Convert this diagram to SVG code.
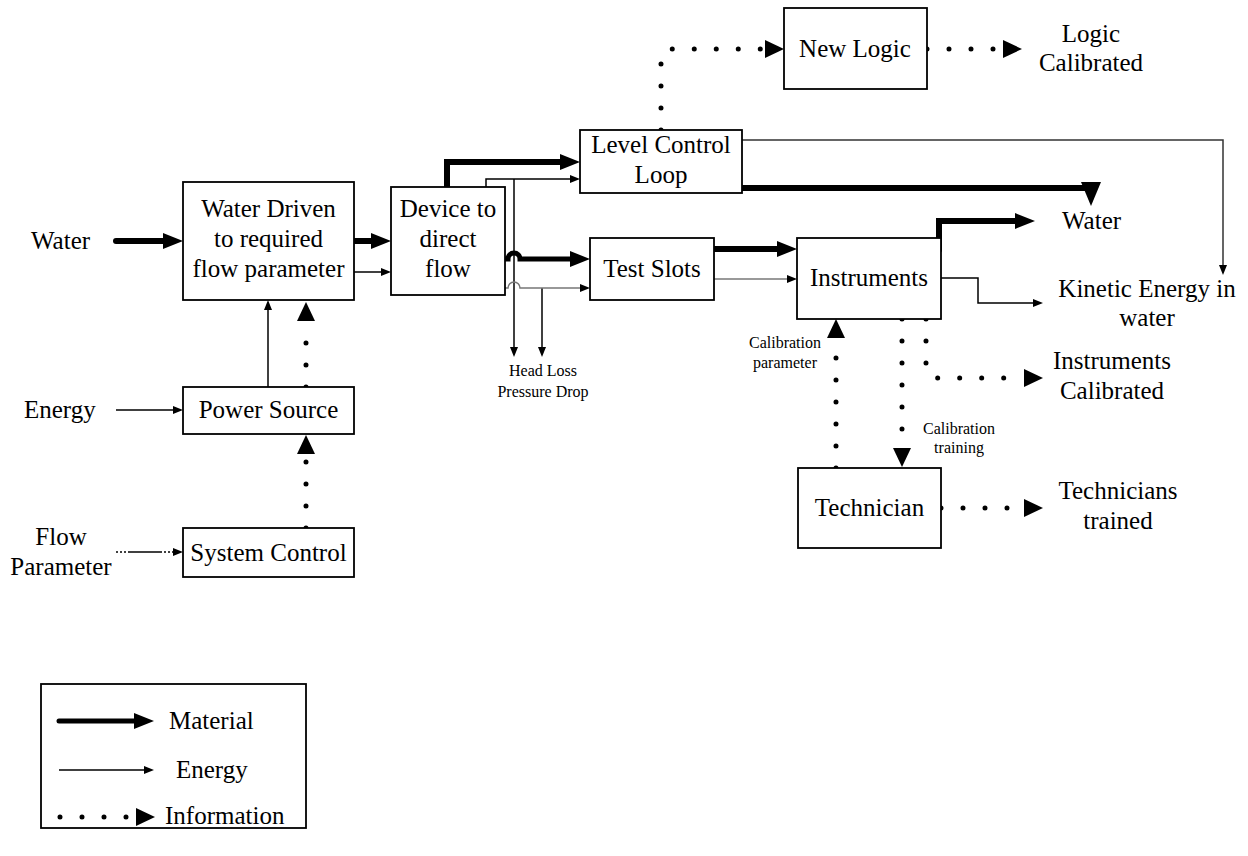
<svg xmlns="http://www.w3.org/2000/svg" width="1248" height="856" viewBox="0 0 1248 856">
<style>
  .box { fill: #fff; stroke: #000; stroke-width: 1.8; }
  .t { font-family: "Liberation Serif", "Times New Roman", serif; font-size: 25px; fill: #000; }
  .c { text-anchor: middle; }
  .s { font-family: "Liberation Serif", "Times New Roman", serif; font-size: 16px; fill: #000; }
  .mat { fill: none; stroke: #000; stroke-width: 6; stroke-linecap: round; }
  .en { fill: none; stroke: #000; stroke-width: 1.5; }
  .eng { fill: none; stroke: #777; stroke-width: 1.5; }
  .inf { fill: none; stroke: #000; stroke-width: 5; stroke-linecap: round; stroke-dasharray: 0 22; }
</style>
<defs>
  <marker id="mMat" viewBox="0 -8 20 16" refX="0" refY="0" markerWidth="20" markerHeight="16" markerUnits="userSpaceOnUse" orient="auto">
    <path d="M0,-8 L20,0 L0,8 Z" fill="#000"/>
  </marker>
  <marker id="mEn" viewBox="0 -4 10 8" refX="0" refY="0" markerWidth="10" markerHeight="8" markerUnits="userSpaceOnUse" orient="auto">
    <path d="M0,-4 L10,0 L0,4 Z" fill="#000"/>
  </marker>
  <marker id="mInf" viewBox="0 -9 19 18" refX="0" refY="0" markerWidth="19" markerHeight="18" markerUnits="userSpaceOnUse" orient="auto">
    <path d="M0,-9 L19,0 L0,9 Z" fill="#000"/>
  </marker>
</defs>

<g id="connectors">
  <!-- inputs -->
  <path class="mat" d="M116,241 H163" marker-end="url(#mMat)"/>
  <path class="en" d="M116,410 H173" marker-end="url(#mEn)"/>
  <path class="en" d="M116,552 H130" stroke-dasharray="2 2"/>
  <path class="en" d="M130,552 H160"/>
  <path class="en" d="M160,552 H173" stroke-dasharray="2 2" marker-end="url(#mEn)"/>
  <!-- left column -->
  <path class="en" d="M268,387 V310" marker-end="url(#mEn)"/>
  <path class="inf" d="M306,387 V321" marker-end="url(#mInf)"/>
  <path class="inf" d="M306,528 V454" marker-end="url(#mInf)"/>
  <!-- water driven to device -->
  <path class="mat" d="M354,241 H371" marker-end="url(#mMat)"/>
  <path class="en" d="M354,272 H381" marker-end="url(#mEn)"/>
  <!-- device to level control loop -->
  <path class="mat" d="M447,187 V162 H560" stroke-linejoin="miter" marker-end="url(#mMat)"/>
  <path class="en" d="M486,187 V179 H570" marker-end="url(#mEn)"/>
  <path class="en" d="M514,179 V347" marker-end="url(#mEn)"/>
  <path class="en" d="M542,288 V347" marker-end="url(#mEn)"/>
  <!-- device to test slots -->
  <path class="mat" style="stroke-width:5" d="M505,259 H508 A6,6 0 0 1 520,259 H570" marker-end="url(#mMat)"/>
  <path class="eng" d="M505,288 H508 A6,6 0 0 1 520,288 H580" marker-end="url(#mEn)"/>
  <!-- test slots to instruments -->
  <path class="mat" d="M714,249 H777" marker-end="url(#mMat)"/>
  <path class="eng" d="M714,279 H787" marker-end="url(#mEn)"/>
  <!-- instruments outputs -->
  <path class="mat" d="M939,250 V221 H1015" stroke-linejoin="miter" marker-end="url(#mMat)"/>
  <path class="en" d="M941,278 H978 V303 H1033" marker-end="url(#mEn)"/>
  <path class="inf" d="M926,319 V370 L934,378 H1024" marker-end="url(#mInf)"/>
  <path class="inf" d="M902,319 V448" marker-end="url(#mInf)"/>
  <path class="inf" d="M836,468 V338" marker-end="url(#mInf)"/>
  <path class="inf" d="M941,508 H1024" marker-end="url(#mInf)"/>
  <!-- level control loop outputs -->
  <path class="mat" d="M742,188 H1092"/>
  <polygon points="1081,182 1101,182 1091,206" fill="#000"/>
  <path class="en" style="stroke:#333" d="M742,140 H1223 V265" marker-end="url(#mEn)"/>
  <path class="inf" d="M661,130 V60 Q661,49 672,49 H765" marker-end="url(#mInf)"/>
  <path class="inf" d="M927,49 H1003" marker-end="url(#mInf)"/>
</g>

<g id="water-driven">
  <rect class="box" x="183" y="182" width="171" height="118"/>
  <text class="t c" x="268.5" y="217">Water Driven</text>
  <text class="t c" x="268.5" y="247">to required</text>
  <text class="t c" x="268.5" y="277">flow parameter</text>
</g>
<g id="power-source">
  <rect class="box" x="183" y="387" width="171" height="47"/>
  <text class="t c" x="268.5" y="418">Power Source</text>
</g>
<g id="system-control">
  <rect class="box" x="183" y="528" width="171" height="49"/>
  <text class="t c" x="268.5" y="561">System Control</text>
</g>
<g id="device">
  <rect class="box" x="391" y="187" width="114" height="108"/>
  <text class="t c" x="448" y="217">Device to</text>
  <text class="t c" x="448" y="247">direct</text>
  <text class="t c" x="448" y="277">flow</text>
</g>
<g id="level-control">
  <rect class="box" x="580" y="130" width="162" height="63"/>
  <text class="t c" x="661" y="153">Level Control</text>
  <text class="t c" x="661" y="183">Loop</text>
</g>
<g id="test-slots">
  <rect class="box" x="590" y="238" width="124" height="62"/>
  <text class="t c" x="652" y="277">Test Slots</text>
</g>
<g id="instruments">
  <rect class="box" x="797" y="238" width="144" height="81"/>
  <text class="t c" x="869" y="286">Instruments</text>
</g>
<g id="new-logic">
  <rect class="box" x="784" y="8" width="143" height="81"/>
  <text class="t c" x="855" y="57">New Logic</text>
</g>
<g id="technician">
  <rect class="box" x="798" y="468" width="143" height="80"/>
  <text class="t c" x="869.5" y="516">Technician</text>
</g>

<g id="labels">
  <text class="t" x="31" y="249">Water</text>
  <text class="t" x="24" y="418">Energy</text>
  <text class="t c" x="61" y="545">Flow</text>
  <text class="t c" x="61" y="575">Parameter</text>
  <text class="s c" x="543" y="376">Head Loss</text>
  <text class="s c" x="543" y="397">Pressure Drop</text>
  <text class="s c" x="785" y="348">Calibration</text>
  <text class="s c" x="785" y="368">parameter</text>
  <text class="s c" x="959" y="434">Calibration</text>
  <text class="s c" x="959" y="453">training</text>
  <text class="t c" x="1091" y="42">Logic</text>
  <text class="t c" x="1091" y="71">Calibrated</text>
  <text class="t" x="1062" y="229">Water</text>
  <text class="t c" x="1147" y="297">Kinetic Energy in</text>
  <text class="t c" x="1147" y="326">water</text>
  <text class="t c" x="1112" y="369">Instruments</text>
  <text class="t c" x="1112" y="399">Calibrated</text>
  <text class="t c" x="1118" y="499">Technicians</text>
  <text class="t c" x="1118" y="529">trained</text>
</g>

<g id="legend">
  <rect class="box" x="41" y="684" width="265" height="144"/>
  <path class="mat" style="stroke-width:5" d="M59,721 H134" marker-end="url(#mMat)"/>
  <text class="t" x="169" y="729">Material</text>
  <path class="en" d="M59,770 H144" marker-end="url(#mEn)"/>
  <text class="t" x="176" y="778">Energy</text>
  <path class="inf" d="M60,817 H136" marker-end="url(#mInf)"/>
  <text class="t" x="165" y="824">Information</text>
</g>
</svg>
